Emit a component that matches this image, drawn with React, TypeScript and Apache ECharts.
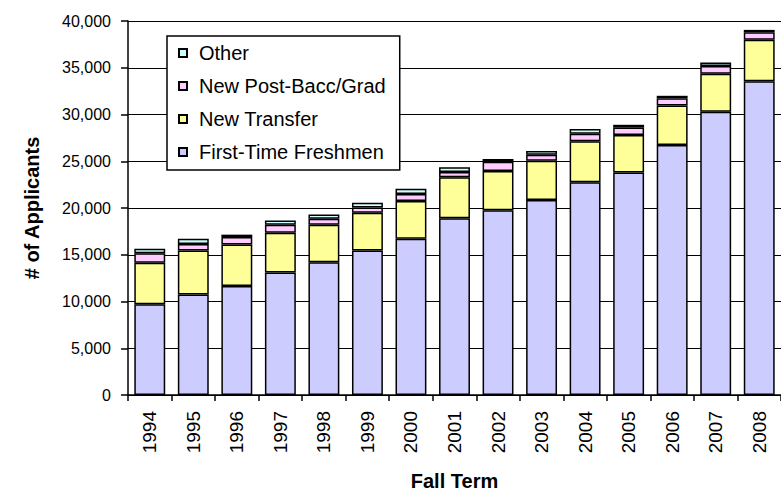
import React, { useEffect, useRef } from "react";
import * as echarts from "echarts";

const years = ["1994", "1995", "1996", "1997", "1998", "1999", "2000", "2001", "2002", "2003", "2004", "2005", "2006", "2007", "2008"];
const freshmen = [9700, 10750, 11650, 13100, 14200, 15450, 16700, 18900, 19750, 20850, 22750, 23800, 26750, 30300, 33550];
const transfer = [4450, 4700, 4450, 4250, 4000, 4050, 4050, 4400, 4200, 4200, 4400, 4000, 4200, 4050, 4450];
const postBacc = [1000, 700, 800, 850, 650, 550, 750, 550, 1000, 650, 800, 800, 800, 850, 800];
const other = [500, 550, 250, 450, 450, 500, 550, 500, 300, 400, 500, 300, 250, 350, 250];

const FONT = "'Liberation Sans', Arial, sans-serif";

export default function App() {
  const ref = useRef<HTMLDivElement>(null);
  useEffect(() => {
    if (!ref.current) return;
    const chart = echarts.init(ref.current, undefined, { renderer: "svg" });
    const mk = (name: string, data: number[], color: string) => ({
      name,
      type: "bar",
      stack: "total",
      data,
      barCategoryGap: "29%",
      itemStyle: { color, borderColor: "#000", borderWidth: 1.5 },
    });
    chart.setOption({
      animation: false,
      backgroundColor: "#fff",
      textStyle: { fontFamily: FONT, color: "#000" },
      grid: { left: 128, right: -5, top: 21, bottom: 99, containLabel: false },
      legend: {
        orient: "vertical",
        left: 167,
        top: 36,
        backgroundColor: "#fff",
        borderColor: "#000",
        borderWidth: 1.5,
        padding: [7, 14, 8, 11],
        itemGap: 13,
        itemWidth: 8,
        itemHeight: 8,
        icon: "rect",
        textStyle: { fontSize: 20, color: "#000", fontFamily: FONT, padding: [0, 0, 0, 7] },
        data: ["Other", "New Post-Bacc/Grad", "New Transfer", "First-Time Freshmen"],
      },
      xAxis: {
        type: "category",
        data: years,
        name: "Fall Term",
        nameLocation: "middle",
        nameGap: 76,
        nameTextStyle: { fontSize: 20, fontWeight: "bold", color: "#000", fontFamily: FONT },
        axisLine: { lineStyle: { color: "#000", width: 1.5 } },
        axisTick: { show: true, length: 6, lineStyle: { color: "#000", width: 1.5 } },
        axisLabel: { rotate: 90, fontSize: 19, color: "#000", margin: 16, fontFamily: FONT },
      },
      yAxis: {
        type: "value",
        min: 0,
        max: 40000,
        interval: 5000,
        name: "# of Applicants",
        nameLocation: "middle",
        nameGap: 86,
        nameTextStyle: { fontSize: 20, fontWeight: "bold", color: "#000", fontFamily: FONT },
        axisLine: { show: true, lineStyle: { color: "#000", width: 1.5 } },
        axisTick: { show: true, length: 7, lineStyle: { color: "#000", width: 1.5 } },
        axisLabel: {
          fontSize: 16,
          color: "#000",
          margin: 17,
          fontFamily: FONT,
          formatter: (v: number) => v.toLocaleString("en-US"),
        },
        splitLine: { show: true, lineStyle: { color: "#000", width: 1.2 } },
      },
      series: [
        mk("First-Time Freshmen", freshmen, "#CCCCFF"),
        mk("New Transfer", transfer, "#FFFF99"),
        mk("New Post-Bacc/Grad", postBacc, "#FFCCFF"),
        mk("Other", other, "#CCFFFF"),
      ],
    });
    return () => chart.dispose();
  }, []);
  return (
    <div
      ref={ref}
      style={{ position: "absolute", left: 0, top: 0, width: 781, height: 496 }}
    />
  );
}
